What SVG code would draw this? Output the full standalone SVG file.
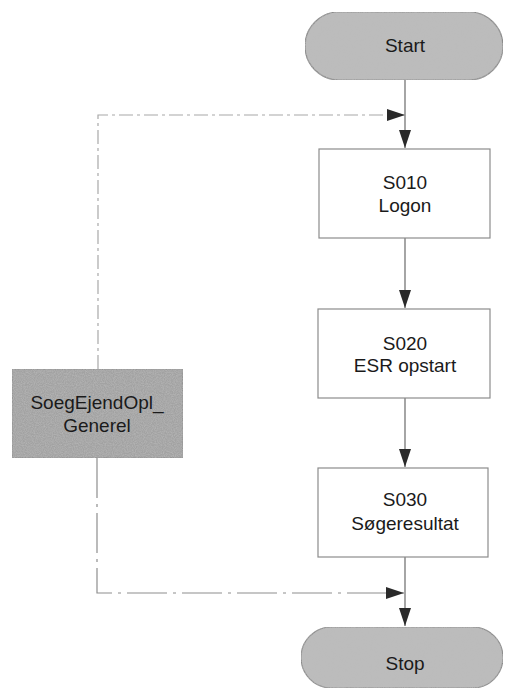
<svg xmlns="http://www.w3.org/2000/svg" width="505" height="690" viewBox="0 0 505 690">
<style>
text{font-family:"Liberation Sans",Arial,sans-serif;font-size:19px;fill:#1a1a1a;text-anchor:middle}
.pill{fill:#bcbcbc;stroke:#8a8a8a;stroke-width:1.2}
.box{fill:#ffffff;stroke:#8c8c8c;stroke-width:1.2}
.gbox{fill:#a2a2a2;stroke:#8a8a8a;stroke-width:1}
.conn{fill:none;stroke:#6a6a6a;stroke-width:1.2}
.loop{fill:none;stroke:#a8a8a8;stroke-width:1.2;stroke-dasharray:14 4 3 4}
.loop2{fill:none;stroke:#8e8e8e;stroke-width:1.2;stroke-dasharray:40 6 3 6}
</style>
<defs>
<marker id="ah" viewBox="0 0 18 12" refX="18" refY="6" markerWidth="18" markerHeight="12" markerUnits="userSpaceOnUse" orient="auto">
<path d="M0,0 L18,6 L0,12 Z" fill="#2a2a2a"/>
</marker>
<filter id="grain" x="0" y="0" width="100%" height="100%">
<feTurbulence type="fractalNoise" baseFrequency="0.9" numOctaves="2" seed="3" result="n"/>
<feColorMatrix in="n" type="matrix" values="0 0 0 0 0.5  0 0 0 0 0.5  0 0 0 0 0.5  0 0 0 1.2 -0.35" result="g"/>
<feComposite in="g" in2="SourceGraphic" operator="in" result="gc"/>
<feMerge><feMergeNode in="SourceGraphic"/><feMergeNode in="gc"/></feMerge>
</filter>
</defs>
<g id="connectors">
<path class="conn" d="M405,80 L405,148" marker-end="url(#ah)"/>
<path class="loop" d="M98,369 L98,115 L405,115" marker-end="url(#ah)"/>
<path class="conn" d="M405,238 L405,308" marker-end="url(#ah)"/>
<path class="conn" d="M405,398 L405,467" marker-end="url(#ah)"/>
<path class="conn" d="M405,557 L405,626" marker-end="url(#ah)"/>
<path class="loop2" d="M97,458 L97,593 L404,593" marker-end="url(#ah)"/>
</g>
<g id="start">
<rect class="pill" x="305" y="12" width="198" height="68" rx="34" filter="url(#grain)"/>
<text x="405" y="52">Start</text>
</g>
<g id="s010">
<rect class="box" x="319" y="149" width="171" height="89"/>
<text x="405" y="189">S010</text>
<text x="405" y="212">Logon</text>
</g>
<g id="s020">
<rect class="box" x="318" y="309" width="172" height="89"/>
<text x="405" y="350">S020</text>
<text x="405" y="372">ESR opstart</text>
</g>
<g id="soeg">
<rect class="gbox" x="12" y="369" width="171" height="89" filter="url(#grain)"/>
<text x="97" y="409">SoegEjendOpl_</text>
<text x="97" y="432">Generel</text>
</g>
<g id="s030">
<rect class="box" x="318" y="468" width="170" height="89"/>
<text x="405" y="506">S030</text>
<text x="405" y="530">Søgeresultat</text>
</g>
<g id="stop">
<rect class="pill" x="301" y="627" width="202" height="61" rx="30.5" filter="url(#grain)"/>
<text x="405" y="670">Stop</text>
</g>
</svg>
